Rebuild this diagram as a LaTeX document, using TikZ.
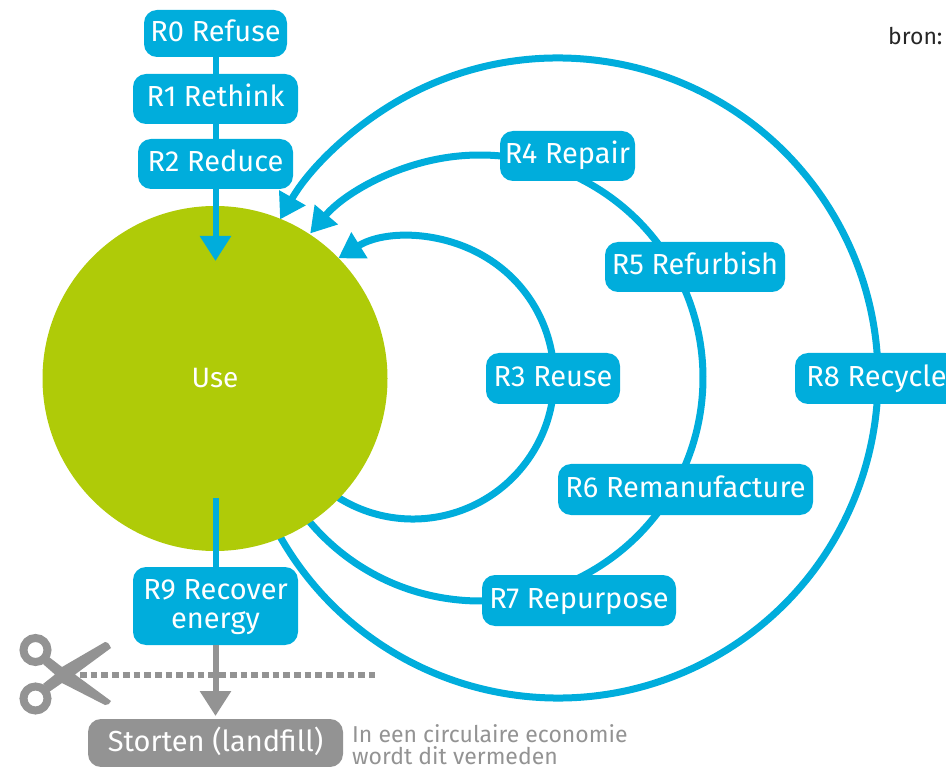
\documentclass[tikz,border=0pt]{standalone}
\usepackage{fontspec}
\setmainfont{Fira Sans}
\usetikzlibrary{arrows.meta,backgrounds}
\definecolor{rblue}{HTML}{00ADDC}
\definecolor{rgreen}{HTML}{AFCB08}
\definecolor{rgrey}{HTML}{939393}
\tikzset{
  x=1pt,y=1pt,
  rbox/.style={fill=#1,rounded corners=13pt,text=white,inner sep=0pt,align=center,text height=20pt,text depth=4pt,font=\fontsize{29}{29}\selectfont},
  rbox/.default=rblue,
  conn/.style={draw=rblue,line width=6pt},
  arcline/.style={draw=rblue,line width=7pt,-{Triangle[length=25pt,width=29pt]}},
  downarrow/.style={line width=6pt,-{Triangle[length=25pt,width=30pt]}},
  note/.style={text=rgrey,anchor=base west,inner sep=0pt,font=\fontsize{23}{23}\selectfont},
}
\begin{document}
\begin{tikzpicture}
\useasboundingbox (0,0) rectangle (946,-767);
\node[circle,fill=rgreen,minimum size=345pt,inner sep=0pt,text=white,font=\fontsize{28}{30}\selectfont] (use) at (215,-378.5) {Use};
\node[rbox,minimum width=143pt,minimum height=47pt] (r0) at (215.5,-33.5) {R0 Refuse};
\node[rbox,minimum width=165pt,minimum height=50pt] (r1) at (215.5,-99) {R1 Rethink};
\node[rbox,minimum width=155pt,minimum height=50pt] (r2) at (215.5,-164) {R2 Reduce};
\node[rbox,minimum width=134pt,minimum height=51pt] (r3) at (553,-378.5) {R3 Reuse};
\node[rbox,minimum width=135pt,minimum height=50pt] (r4) at (567.5,-156) {R4 Repair};
\node[rbox,minimum width=180pt,minimum height=50pt] (r5) at (695,-267) {R5 Refurbish};
\node[rbox,minimum width=255pt,minimum height=51pt] (r6) at (685.5,-489.5) {R6 Remanufacture};
\node[rbox,minimum width=194pt,minimum height=51pt] (r7) at (579,-600.5) {R7 Repurpose};
\node[rbox,minimum width=163pt,minimum height=51pt] (r8) at (876.5,-378.5) {R8 Recycle};
\node[rbox,text height=49pt,text depth=4pt,minimum width=165pt,minimum height=78pt] (r9) at (215.5,-606) {R9 Recover\\energy};
\node[rbox=rgrey,minimum width=255pt,minimum height=48pt] (st) at (215.5,-743) {Storten (landfill)};
\node[note] (n1) at (352,-742) {In een circulaire economie};
\node[note] (n2) at (352,-764.5) {wordt dit vermeden};
\node[anchor=base west,inner sep=0pt,font=\fontsize{23}{24}\selectfont,text=black!85] (bron) at (888,-45) {bron:};
\coordinate (c3) at (413,-378);
\coordinate (c5) at (480,-378);
\coordinate (c8) at (558,-378);
\coordinate (cutA) at (80,-675);
\coordinate (cutB) at (375,-675);
\coordinate (usecore) at (215.5,-498);
\begin{scope}[on background layer]
\draw[arcline] ([shift={(238:141pt)}]c3) arc[start angle=238,end angle=482,radius=141pt];
\draw[arcline] ([shift={(219.9:223pt)}]c5) arc[start angle=219.9,end angle=499.6,radius=223pt];
\draw[arcline] ([shift={(209.6:320pt)}]c8) arc[start angle=209.6,end angle=510.3,radius=320pt];
\end{scope}
\draw[conn] (r0) -- (r1);
\draw[conn] (r1) -- (r2);
\coordinate (usetip) at (215.5,-261);
\draw[rblue,downarrow] (r2.south) -- (usetip);
\draw[conn] (usecore) -- (r9.north);
\coordinate (sttop) at (215.5,-716);
\draw[rgrey,downarrow] (r9.south) -- (sttop);
\draw[rgrey,line width=6.5pt,dash pattern=on 6.7pt off 4pt] (cutA) -- (cutB);
% scissors
\fill[rgrey] (105,-642) .. controls (108,-642) and (110,-645) .. (111,-648) -- (75,-674.5) -- (111,-701) .. controls (110,-704) and (108,-705) .. (105,-705) -- (62,-683) -- (49,-692) -- (43,-684) -- (55,-674.5) -- (43,-664) -- (49,-657) -- (62,-667) -- cycle;
\draw[rgrey,line width=8pt] (35.5,-650) circle[radius=12pt] (35.5,-698.5) circle[radius=12pt];
\end{tikzpicture}
\end{document}
